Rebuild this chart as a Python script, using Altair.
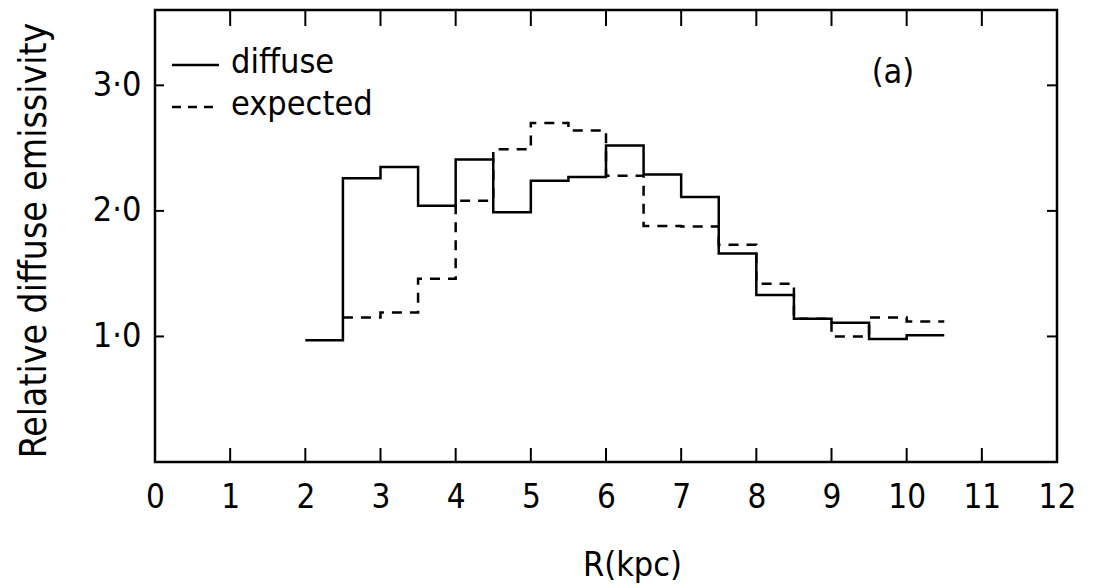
import altair as alt
import pandas as pd

# Diffuse emissivity (solid step line): bin edges and values
diffuse_edges = [2.0, 2.5, 3.0, 3.5, 4.0, 4.5, 5.0, 5.5, 6.0, 6.5, 7.0, 7.5, 8.0, 8.5, 9.0, 9.5, 10.0, 10.5]
diffuse_values = [0.97, 2.26, 2.35, 2.04, 2.41, 1.99, 2.24, 2.27, 2.52, 2.29, 2.11, 1.66, 1.33, 1.14, 1.11, 0.98, 1.01]

# Expected emissivity (dashed step line)
expected_edges = [2.5, 3.0, 3.5, 4.0, 4.5, 5.0, 5.5, 6.0, 6.5, 7.0, 7.5, 8.0, 8.5, 9.0, 9.5, 10.0, 10.5]
expected_values = [1.15, 1.19, 1.46, 2.08, 2.49, 2.70, 2.64, 2.28, 1.88, 1.875, 1.73, 1.42, 1.14, 1.00, 1.15, 1.12]

x_ticks = [0, 1, 2, 3, 4, 5, 6, 7, 8, 9, 10, 11, 12]
x_inner_ticks = [1, 2, 3, 4, 5, 6, 7, 8, 9, 10, 11]
y_ticks = [1.0, 2.0, 3.0]
series_names = ["diffuse", "expected"]
panel_label = ["(a)"]

FONT = "DejaVu Sans Condensed, Liberation Sans Narrow, DejaVu Sans"
W, H = 902, 452


def step_frame(edges, values, name):
    rows = [{"R": e, "v": v, "series": name} for e, v in zip(edges[:-1], values)]
    rows.append({"R": edges[-1], "v": values[-1], "series": name})
    return pd.DataFrame(rows)


dif = step_frame(diffuse_edges, diffuse_values, series_names[0])
exp = step_frame(expected_edges, expected_values, series_names[1])

xs = alt.Scale(domain=[0, 12], nice=False, zero=False)
ys = alt.Scale(domain=[0, 3.6], nice=False, zero=False)

x_axis = alt.Axis(values=x_ticks, format="d", ticks=False, domain=False, grid=False,
                  labelFontSize=33, labelFont=FONT, labelPadding=19, labelColor="black",
                  title="R(kpc)", titleFontSize=34, titleFont=FONT, titleFontWeight="normal",
                  titleColor="black",
                  titleX=477, titleY=103, titleBaseline="middle", titleAlign="center",
                  labelFlush=False)
y_axis = alt.Axis(values=y_ticks, ticks=False, domain=False, grid=False, format=".1f",
                  labelExpr="replace(datum.label, '.', '·')",
                  labelFontSize=34, labelFont=FONT, labelPadding=14, labelColor="black",
                  title="Relative diffuse emissivity", titleFontSize=37, titleFont=FONT,
                  titleColor="black",
                  titleFontWeight="normal", titleX=-121, titleY=230, titleAngle=270,
                  titleBaseline="middle", titleAlign="center")

solid = alt.Chart(dif).mark_line(interpolate="step-after", color="black", strokeWidth=2.5).encode(
    x=alt.X("R:Q", scale=xs, axis=x_axis),
    y=alt.Y("v:Q", scale=ys, axis=y_axis),
)
dashed = alt.Chart(exp).mark_line(interpolate="step-after", color="black", strokeWidth=2.5,
                                  strokeDash=[10, 8]).encode(
    x=alt.X("R:Q", scale=xs),
    y=alt.Y("v:Q", scale=ys),
)

xt = pd.DataFrame({"t": x_inner_ticks})
yt = pd.DataFrame({"t": y_ticks})
bottom_ticks = alt.Chart(xt).mark_rule(color="black", strokeWidth=2).encode(
    x=alt.X("t:Q", scale=xs), y=alt.value(H), y2=alt.value(H - 14))
top_ticks = alt.Chart(xt).mark_rule(color="black", strokeWidth=2).encode(
    x=alt.X("t:Q", scale=xs), y=alt.value(0), y2=alt.value(16))
left_ticks = alt.Chart(yt).mark_rule(color="black", strokeWidth=2).encode(
    y=alt.Y("t:Q", scale=ys), x=alt.value(0), x2=alt.value(9))
right_ticks = alt.Chart(yt).mark_rule(color="black", strokeWidth=2).encode(
    y=alt.Y("t:Q", scale=ys), x=alt.value(W), x2=alt.value(W - 10))

leg = pd.DataFrame({"name": series_names})
leg_solid = alt.Chart(leg[leg.name == "diffuse"]).mark_rule(color="black", strokeWidth=2.5).encode(
    x=alt.value(17), x2=alt.value(64), y=alt.value(55))
leg_dash = alt.Chart(leg[leg.name == "expected"]).mark_rule(color="black", strokeWidth=2.5,
                                                           strokeDash=[9, 7]).encode(
    x=alt.value(17), x2=alt.value(64), y=alt.value(97))
leg_text1 = alt.Chart(leg[leg.name == "diffuse"]).mark_text(
    align="left", baseline="middle", fontSize=34, font=FONT, color="black").encode(
    x=alt.value(76), y=alt.value(53), text="name:N")
leg_text2 = alt.Chart(leg[leg.name == "expected"]).mark_text(
    align="left", baseline="middle", fontSize=34, font=FONT, color="black").encode(
    x=alt.value(76), y=alt.value(95), text="name:N")

lab = alt.Chart(pd.DataFrame({"t": panel_label})).mark_text(
    align="center", baseline="middle", fontSize=34, font=FONT, color="black").encode(
    x=alt.value(738), y=alt.value(63), text="t:N")

chart = alt.layer(
    solid, dashed, bottom_ticks, top_ticks, left_ticks, right_ticks,
    leg_solid, leg_dash, leg_text1, leg_text2, lab
).properties(
    width=W, height=H, autosize="none",
    padding={"left": 147, "top": 2, "right": 30, "bottom": 122},
).configure_view(stroke="black", strokeWidth=2.5)

chart.save("out.html", embed_options={"renderer": "svg", "actions": False})
